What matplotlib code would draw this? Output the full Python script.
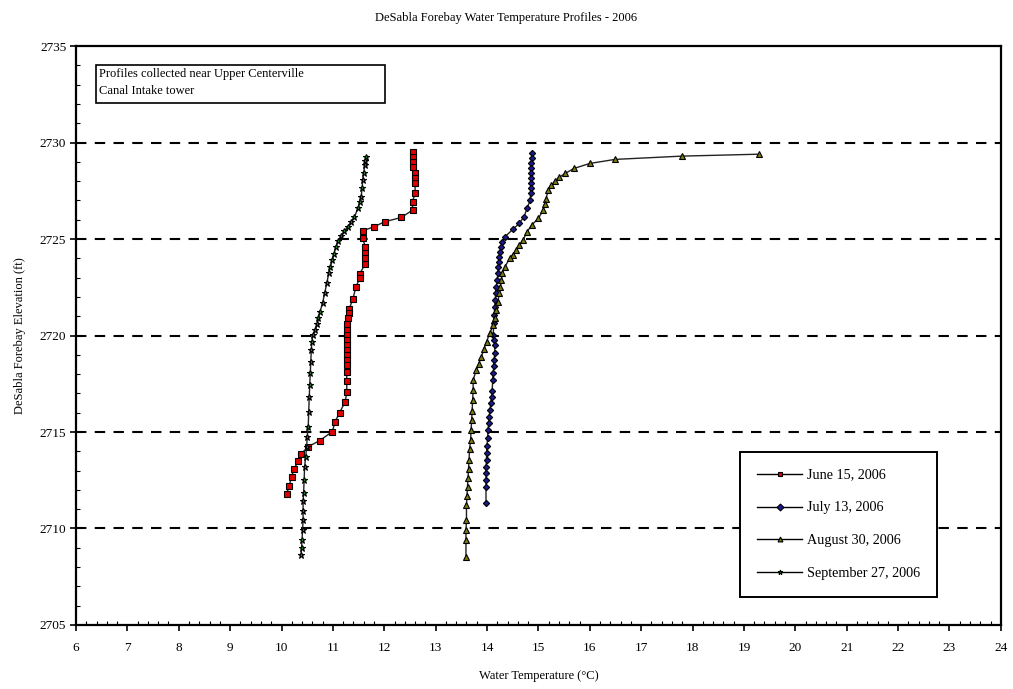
import matplotlib
matplotlib.use("Agg")
import matplotlib.pyplot as plt
from matplotlib.patches import Rectangle
from matplotlib.ticker import MultipleLocator

plt.rcParams["font.family"] = ["Liberation Serif", "DejaVu Serif"]

# ---- data (temperature degC, elevation ft) ----
jun_t = [12.55, 12.55, 12.56, 12.55, 12.59, 12.60, 12.60, 12.60, 12.55, 12.55, 12.33, 12.01, 11.80,
         11.58, 11.58, 11.63, 11.63, 11.63, 11.63, 11.52, 11.52, 11.45, 11.39, 11.32, 11.32, 11.30,
         11.27, 11.27, 11.27, 11.27, 11.27, 11.27, 11.27, 11.27, 11.27, 11.27, 11.27, 11.27, 11.24,
         11.13, 11.04, 10.99, 10.74, 10.52, 10.38, 10.33, 10.24, 10.20, 10.15, 10.10]
jun_e = [2729.52, 2729.26, 2729.00, 2728.75, 2728.40, 2728.15, 2727.90, 2727.40, 2726.93, 2726.50,
         2726.12, 2725.90, 2725.64, 2725.43, 2725.04, 2724.60, 2724.30, 2724.00, 2723.70, 2723.20,
         2722.96, 2722.53, 2721.90, 2721.40, 2721.15, 2720.90, 2720.60, 2720.30, 2720.03, 2719.77,
         2719.50, 2719.25, 2719.00, 2718.73, 2718.47, 2718.12, 2717.66, 2717.06, 2716.57, 2716.00,
         2715.52, 2715.02, 2714.55, 2714.24, 2713.86, 2713.51, 2713.07, 2712.69, 2712.22, 2711.79]

jul_t = [14.87, 14.87, 14.86, 14.86, 14.86, 14.85, 14.85, 14.85, 14.85, 14.84, 14.78, 14.72, 14.63,
         14.50, 14.35, 14.30, 14.27, 14.25, 14.24, 14.23, 14.22, 14.21, 14.20, 14.18, 14.17, 14.16,
         14.15, 14.14, 14.13, 14.12, 14.14, 14.15, 14.15, 14.14, 14.13, 14.12, 14.11, 14.10, 14.09,
         14.07, 14.06, 14.04, 14.03, 14.02, 14.01, 14.00, 13.99, 13.99, 13.98, 13.98, 13.98,
         13.98, 13.98]
jul_e = [2729.44, 2729.18, 2728.92, 2728.66, 2728.40, 2728.15, 2727.90, 2727.63, 2727.37, 2727.02,
         2726.60, 2726.16, 2725.82, 2725.50, 2725.12, 2724.85, 2724.60, 2724.33, 2724.08, 2723.82,
         2723.57, 2723.22, 2722.88, 2722.53, 2722.19, 2721.85, 2721.50, 2721.07, 2720.63, 2720.03,
         2719.75, 2719.50, 2719.08, 2718.75, 2718.40, 2718.05, 2717.70, 2717.10, 2716.80, 2716.49,
         2716.15, 2715.80, 2715.45, 2715.10, 2714.70, 2714.30, 2713.90, 2713.55, 2713.20, 2712.85,
         2712.50, 2712.17, 2711.34]

aug_t = [19.29, 17.79, 16.49, 16.00, 15.69, 15.52, 15.40, 15.32, 15.25, 15.19, 15.15, 15.12, 15.09,
         15.00, 14.87, 14.78, 14.70, 14.63, 14.57, 14.50, 14.44, 14.35, 14.30, 14.28, 14.26, 14.24,
         14.21, 14.18, 14.15, 14.12, 14.05, 13.99, 13.94, 13.89, 13.84, 13.79, 13.73, 13.73, 13.72,
         13.71, 13.70, 13.69, 13.68, 13.66, 13.65, 13.64, 13.63, 13.62, 13.61, 13.60, 13.60, 13.59,
         13.59, 13.59]
aug_e = [2729.40, 2729.30, 2729.13, 2728.92, 2728.66, 2728.40, 2728.20, 2728.00, 2727.78, 2727.54,
         2727.10, 2726.80, 2726.50, 2726.07, 2725.73, 2725.38, 2724.95, 2724.70, 2724.43, 2724.20,
         2724.00, 2723.57, 2723.22, 2722.88, 2722.53, 2722.19, 2721.75, 2721.32, 2720.93, 2720.54,
         2720.11, 2719.68, 2719.30, 2718.90, 2718.55, 2718.21, 2717.70, 2717.20, 2716.66, 2716.10,
         2715.60, 2715.10, 2714.60, 2714.10, 2713.55, 2713.10, 2712.60, 2712.17, 2711.70, 2711.20,
         2710.44, 2709.90, 2709.40, 2708.54]

sep_t = [11.65, 11.63, 11.62, 11.60, 11.58, 11.57, 11.55, 11.52, 11.49, 11.42, 11.36, 11.29, 11.22,
         11.16, 11.10, 11.06, 11.02, 10.99, 10.95, 10.92, 10.88, 10.84, 10.80, 10.75, 10.72, 10.70,
         10.66, 10.61, 10.59, 10.58, 10.57, 10.56, 10.55, 10.54, 10.53, 10.52, 10.50, 10.49, 10.47,
         10.45, 10.44, 10.43, 10.42, 10.42, 10.42, 10.41, 10.40, 10.39, 10.38]
sep_e = [2729.26, 2729.05, 2728.83, 2728.45, 2728.06, 2727.65, 2727.20, 2726.90, 2726.60, 2726.16,
         2725.90, 2725.64, 2725.40, 2725.16, 2724.88, 2724.60, 2724.25, 2723.91, 2723.55, 2723.22,
         2722.70, 2722.19, 2721.70, 2721.23, 2720.90, 2720.60, 2720.30, 2720.03, 2719.65, 2719.25,
         2718.65, 2718.04, 2717.45, 2716.83, 2716.05, 2715.27, 2714.75, 2714.24, 2713.70, 2713.20,
         2712.50, 2711.82, 2711.40, 2710.90, 2710.44, 2709.90, 2709.40, 2709.00, 2708.63]

series = [
    ("June 15, 2006", jun_t, jun_e, "s", "#e00000", 4.5),
    ("July 13, 2006", jul_t, jul_e, "D", "#1a1a8c", 3.2),
    ("August 30, 2006", aug_t, aug_e, "^", "#7a7a10", 4.2),
    ("September 27, 2006", sep_t, sep_e, "*", "#1f8a1f", 5.0),
]

fig = plt.figure(figsize=(10.13, 6.89), dpi=100)
ax = fig.add_axes([0.075, 0.093, 0.913, 0.840])

for y in [2710, 2715, 2720, 2725, 2730]:
    ax.axhline(y, color="black", lw=1.5, ls=(0, (5, 4)), zorder=1)

for label, t, e, mk, col, ms in series:
    ax.plot(t, e, color="#222222", lw=1.0, marker=mk, markersize=ms, markerfacecolor=col,
            markeredgecolor="black", markeredgewidth=0.8, label=label, zorder=3)

ax.set_xlim(6, 24)
ax.set_ylim(2705, 2735)
ax.xaxis.set_major_locator(MultipleLocator(1))
ax.xaxis.set_minor_locator(MultipleLocator(0.2))
ax.yaxis.set_major_locator(MultipleLocator(5))
ax.yaxis.set_minor_locator(MultipleLocator(1))
ax.tick_params(which="major", direction="out", length=4, width=1.2, labelsize=9.5, pad=8)
ax.tick_params(which="minor", direction="in", length=3, width=0.8)
ax.tick_params(axis="y", which="major", pad=3)
for s in ax.spines.values():
    s.set_linewidth(1.6)

ax.set_xlabel("Water Temperature (\u00b0C)", fontsize=9, labelpad=12)
ax.set_ylabel("DeSabla Forebay Elevation (ft)", fontsize=9, labelpad=10)
fig.suptitle("DeSabla Forebay Water Temperature Profiles - 2006", fontsize=9, y=0.982)

# note box in upper left
ax.add_patch(Rectangle((0.0216, 0.9016), 0.3124, 0.0654, transform=ax.transAxes,
                       facecolor="white", edgecolor="black", lw=1.2, zorder=4))
ax.text(0.025, 0.962, "Profiles collected near Upper Centerville\nCanal Intake tower",
        transform=ax.transAxes, fontsize=9, va="top", ha="left", linespacing=1.5, zorder=5)

leg = ax.legend(loc="lower left", bbox_to_anchor=(0.718, 0.048), fontsize=10.2, frameon=True,
                fancybox=False, edgecolor="black", framealpha=1, labelspacing=1.4,
                borderpad=1.2, handlelength=3.2, handletextpad=0.3, borderaxespad=0)
leg.get_frame().set_linewidth(1.4)
for h in leg.legend_handles:
    h.set_markersize(3.5)
    h.set_color("black")

fig.savefig("out.png", dpi=100)
